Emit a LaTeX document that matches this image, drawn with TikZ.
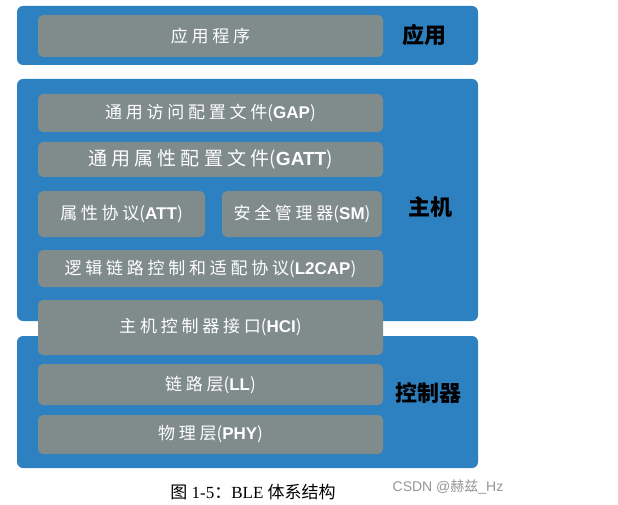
\documentclass[tikz,border=0pt]{standalone}
\usepackage{fontspec}
\setmainfont{Liberation Serif}
\newfontfamily\cjk{Noto Sans CJK SC}
\newfontfamily\cjkbox[LetterSpace=22]{Noto Sans CJK SC}
\newfontfamily\latinb{Liberation Sans}
\definecolor{bleblue}{RGB}{46,129,193}
\definecolor{layergray}{RGB}{128,139,139}
\definecolor{marktext}{RGB}{150,150,150}

% one layer text: Chinese name plus abbreviation
\newcommand{\lyrtext}[2]{{\cjkbox #1}{\cjk(}{\latinb\bfseries #2}{\cjk)}}

\tikzset{
  bluebox/.style={fill=bleblue, rounded corners=6pt, inner sep=0pt},
  layer/.style={fill=layergray, rounded corners=5pt, inner sep=0pt,
    text=white, font=\fontsize{17}{19}\selectfont},
  side/.style={font=\cjk\bfseries\fontsize{22}{24}\selectfont}
}

\begin{document}
\begin{tikzpicture}[x=1pt, y=-1pt]
  \useasboundingbox [fill=white] (0,0) rectangle (618,505);

  % blue frames
  \node [bluebox, minimum width=461pt, minimum height=59pt] (app) at (247.5, 35.5) {};
  \node [bluebox, minimum width=461pt, minimum height=242pt] (host) at (247.5, 200) {};
  \node [bluebox, minimum width=461pt, minimum height=132pt] (ctrl) at (247.5, 402) {};

  % layers
  \node [layer, minimum width=345pt, minimum height=42pt] (prog) at (210.5, 36) {\cjkbox 应用程序};
  \node [layer, minimum width=345pt, minimum height=38pt] (gap) at (210.5, 113) {\lyrtext{通用访问配置文件}{GAP}};
  \node [layer, minimum width=345pt, minimum height=35pt, font=\fontsize{19}{21}\selectfont] (gatt) at (210.5, 159.5) {\lyrtext{通用属性配置文件}{GATT}};
  \node [layer, minimum width=167pt, minimum height=46pt] (att) at (121.5, 214) {\lyrtext{属性协议}{ATT}};
  \node [layer, minimum width=160pt, minimum height=46pt] (sm) at (302, 214) {\lyrtext{安全管理器}{SM}};
  \node [layer, minimum width=345pt, minimum height=37pt] (l2cap) at (210.5, 268.5) {\lyrtext{逻辑链路控制和适配协议}{L2CAP}};
  \node [layer, minimum width=345pt, minimum height=55pt] (hci) at (210.5, 327.5) {\lyrtext{主机控制器接口}{HCI}};
  \node [layer, minimum width=345pt, minimum height=41pt] (ll) at (210.5, 384.5) {\lyrtext{链路层}{LL}};
  \node [layer, minimum width=345pt, minimum height=39pt] (phy) at (210.5, 434.5) {\lyrtext{物理层}{PHY}};

  % side labels
  \node [side] (appname) at (424, 35) {应用};
  \node [side] (hostname) at (430, 207) {主机};
  \node [side] (ctrlname) at (428, 393) {控制器};

  % caption
  \node [font=\fontsize{17}{19}\selectfont] (cap) at (253, 492) {{\cjk 图}~1-5{\cjk ：}BLE~{\cjk 体系结构}};
  \node [text=marktext, font=\latinb\fontsize{14}{16}\selectfont] (mark) at (448, 487) {CSDN @{\cjk 赫兹}\_Hz};
\end{tikzpicture}
\end{document}
